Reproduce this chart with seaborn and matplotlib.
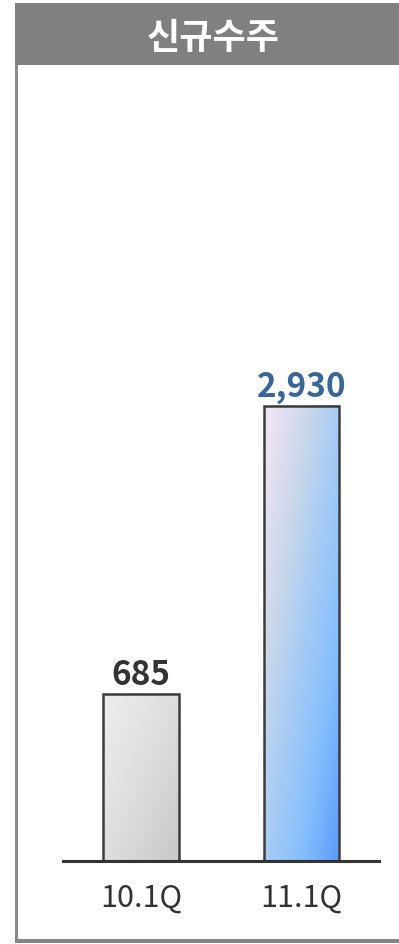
import numpy as np
import pandas as pd
import matplotlib
matplotlib.use("Agg")
import matplotlib.pyplot as plt
import seaborn as sns
from matplotlib.patches import Rectangle
from matplotlib.colors import LinearSegmentedColormap

# ---- data ----
categories = ["10.1Q", "11.1Q"]
values = [685, 2930]
value_labels = ["685", "2,930"]
title_text = "신규수주"

sns.set_theme(style="white")
plt.rcParams['font.family'] = ['Noto Sans CJK KR', 'DejaVu Sans']

W, H = 399, 945
fig = plt.figure(figsize=(W / 100, H / 100), dpi=100)
fig.patch.set_facecolor("white")

def fx(px):
    return px / W

def fy(py):
    return 1 - py / H

# frame: title bar, left line, bottom line
fig.patches.append(Rectangle((fx(15), fy(66)), fx(399) - fx(15), fy(4) - fy(66),
                             transform=fig.transFigure, facecolor="#808080",
                             edgecolor="none", zorder=0))
fig.patches.append(Rectangle((fx(15), fy(942)), fx(2.5), fy(66) - fy(942),
                             transform=fig.transFigure, facecolor="#8a8a8a",
                             edgecolor="none", zorder=0))
fig.patches.append(Rectangle((fx(15), fy(944)), fx(399) - fx(15), fy(940) - fy(944),
                             transform=fig.transFigure, facecolor="#858585",
                             edgecolor="none", zorder=0))
fig.text(fx(213), fy(39), title_text, color="white", fontsize=26, fontweight="bold",
         ha="center", va="center")

# axes
ax = fig.add_axes([fx(63), fy(862), fx(379) - fx(63), fy(100) - fy(862)])
ax.set_facecolor("none")
df = pd.DataFrame({"cat": categories, "val": values})
sns.barplot(data=df, x="cat", y="val", ax=ax, width=0.473, color="white",
            edgecolor="#3c3c3c", linewidth=1.8, saturation=1)
ax.set_yscale("log")
ax.set_ylim(294.9, 13790)
ax.set_xlim(-0.486, 1.483)
ax.set_xlabel("")
ax.set_ylabel("")
ax.yaxis.set_visible(False)
for s in ["left", "right", "top"]:
    ax.spines[s].set_visible(False)
ax.spines["bottom"].set_color("#333333")
ax.spines["bottom"].set_linewidth(2.2)
ax.spines["bottom"].set_zorder(5)
ax.tick_params(axis="x", length=0, pad=15, labelsize=22, labelcolor="#333333")

# gradients
cmaps = [
    LinearSegmentedColormap.from_list("g1", ["#eeeeee", "#dedede", "#c8c8c8"]),
    LinearSegmentedColormap.from_list("g2", [(0, "#f6e6f6"), (0.3, "#cad7ea"),
                                             (0.5, "#a8ccf4"), (0.75, "#84befd"),
                                             (1, "#5d9af8")]),
]
ny, nx = 200, 60
xx, yy = np.meshgrid(np.linspace(0, 1, nx), np.linspace(0, 1, ny))
t = 0.5 * xx + 0.5 * yy
to_axes = ax.transData + ax.transAxes.inverted()
ymin = ax.get_ylim()[0]
for i, p in enumerate(ax.patches[:len(values)]):
    x0 = p.get_x()
    x1 = x0 + p.get_width()
    top = values[i]
    (ax0, ay0) = to_axes.transform((x0, ymin))
    (ax1, ay1) = to_axes.transform((x1, top))
    img = cmaps[i](t)
    ax.imshow(img, extent=[ax0, ax1, ay0, ay1], transform=ax.transAxes,
              origin="upper", aspect="auto", zorder=1, interpolation="bilinear")
    p.set_facecolor("none")
    p.set_zorder(3)

ax.set_xlim(-0.486, 1.483)
ax.set_ylim(294.9, 13790)

label_colors = ["#333333", "#3a6598"]
for i, v in enumerate(values):
    ax.annotate(value_labels[i], xy=(i, v), xytext=(0, 7), textcoords="offset points",
                ha="center", va="baseline", fontsize=24, fontweight="bold",
                color=label_colors[i], zorder=6)

fig.savefig("out.png", dpi=100, facecolor="white")
